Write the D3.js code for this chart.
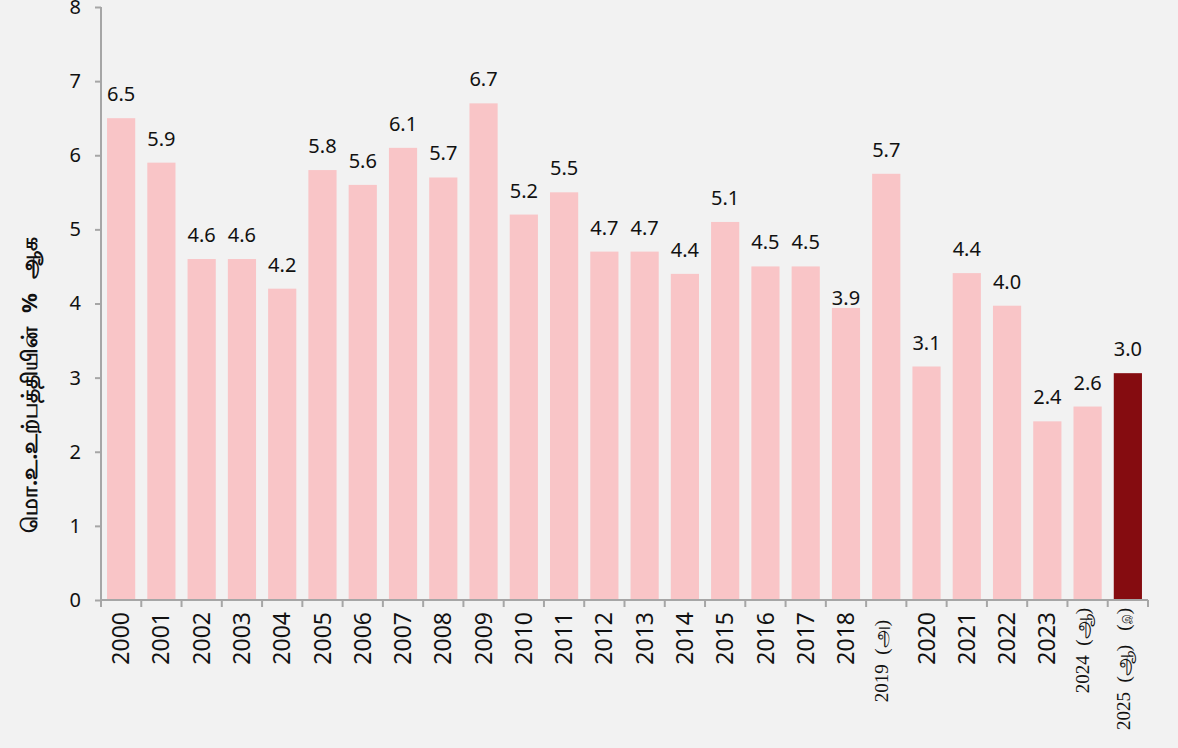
<!DOCTYPE html>
<html>
<head>
<meta charset="utf-8">
<script src="https://cdn.jsdelivr.net/npm/d3@7"></script>
<style>
  body { margin: 0; background: #f2f2f2; }
  svg { display: block; }
</style>
</head>
<body>
<svg id="chart" width="1178" height="748"></svg>
<script>
var categories = ['2000','2001','2002','2003','2004','2005','2006','2007','2008','2009',
  '2010','2011','2012','2013','2014','2015','2016','2017','2018','2019',
  '2020','2021','2022','2023','2024','2025'];
var categoryNotes = ['','','','','','','','','','',
  '','','','','','','','','','அ',
  '','','','','ஆ','ஆ|இ'];
var values = [6.5, 5.9, 4.6, 4.6, 4.2, 5.8, 5.6, 6.1, 5.7, 6.7,
  5.2, 5.5, 4.7, 4.7, 4.4, 5.1, 4.5, 4.5, 3.94, 5.75,
  3.15, 4.41, 3.97, 2.41, 2.61, 3.06];
var valueLabels = ['6.5','5.9','4.6','4.6','4.2','5.8','5.6','6.1','5.7','6.7',
  '5.2','5.5','4.7','4.7','4.4','5.1','4.5','4.5','3.9','5.7',
  '3.1','4.4','4.0','2.4','2.6','3.0'];
var yTicks = [0, 1, 2, 3, 4, 5, 6, 7, 8];
var yTitle = 'மொ.உ.உற்பத்தியின் % ஆக';

var margin = {top: 7, left: 101, right: 30, bottom: 148};
var width = 1178 - margin.left - margin.right;
var height = 748 - margin.top - margin.bottom;

var svg = d3.select('#chart');
var g = svg.append('g').attr('transform', 'translate(' + margin.left + ',' + margin.top + ')');

var x = d3.scaleBand().domain(categories).range([0, width]).paddingInner(0.3).paddingOuter(0.15);
var y = d3.scaleLinear().domain([0, 8]).range([height, 0]);

// bars
g.selectAll('rect.bar')
  .data(values)
  .enter().append('rect')
  .attr('class', 'bar')
  .attr('x', function(d, i) { return x(categories[i]); })
  .attr('width', x.bandwidth())
  .attr('y', function(d) { return y(d); })
  .attr('height', function(d) { return height - y(d); })
  .style('fill', function(d, i) { return i == values.length - 1 ? '#850c10' : '#f9c5c7'; });

// value labels
g.selectAll('text.val')
  .data(values)
  .enter().append('text')
  .attr('class', 'val')
  .attr('x', function(d, i) { return x(categories[i]) + x.bandwidth() / 2; })
  .attr('y', function(d, i) { return y(d) - (i == 18 ? 3 : 17); })
  .attr('text-anchor', 'middle')
  .style('font-family', 'Noto Sans, sans-serif')
  .style('font-size', '20px')
  .style('fill', '#111')
  .text(function(d, i) { return valueLabels[i]; });

// y axis
var yAxis = g.append('g')
  .call(d3.axisLeft(y).tickValues(yTicks).tickSize(6).tickPadding(14).tickFormat(d3.format('d')));
yAxis.select('.domain').attr('stroke', '#a6a6a6').attr('stroke-width', 2).attr('d', 'M0,0V' + height);
yAxis.selectAll('.tick line').attr('stroke', '#a6a6a6').attr('stroke-width', 2);
yAxis.selectAll('.tick text')
  .style('font-family', 'Noto Sans, sans-serif')
  .style('font-size', '20px')
  .style('fill', '#111');

// x axis line + boundary ticks
var step = x.step();
var bounds = categories.map(function(c) { return x(c) - x.paddingInner() * step / 2; });
bounds.push(width);
var xAxis = g.append('g').attr('transform', 'translate(0,' + height + ')');
xAxis.append('line')
  .attr('x1', 0).attr('x2', width)
  .attr('stroke', '#a6a6a6').attr('stroke-width', 2);
xAxis.selectAll('line.tk')
  .data(bounds)
  .enter().append('line')
  .attr('class', 'tk')
  .attr('x1', function(d) { return d; }).attr('x2', function(d) { return d; })
  .attr('y1', 0).attr('y2', 7)
  .attr('stroke', '#a6a6a6').attr('stroke-width', 2);

// category labels, rotated
xAxis.selectAll('text.cat')
  .data(categories)
  .enter().append('text')
  .attr('class', 'cat')
  .attr('transform', function(d, i) {
    var note = categoryNotes[i];
    var cx = x(d) + x.bandwidth() / 2;
    var off = note == '' ? 12 : (note == 'அ' ? 20 : 8);
    var shift = note == '' ? 0 : -5;
    return 'translate(' + (cx + shift) + ',' + off + ') rotate(-90)';
  })
  .attr('dy', '0.35em')
  .attr('text-anchor', 'end')
  .style('white-space', 'pre')
  .style('font-family', function(d, i) { return categoryNotes[i] ? 'Liberation Serif, serif' : 'Noto Sans, sans-serif'; })
  .style('font-size', function(d, i) { return categoryNotes[i] ? '19px' : '23px'; })
  .style('fill', '#111')
  .each(function(d, i) {
    var t = d3.select(this);
    var note = categoryNotes[i];
    if (!note) { t.text(d); return; }
    var parts = note.split('|');
    t.append('tspan').text(d + '  (');
    t.append('tspan').style('font-size', '20px').text(parts[0]);
    t.append('tspan').text(')');
    if (parts[1]) {
      t.append('tspan').text('   (');
      t.append('tspan').style('font-size', '10px').text(parts[1]);
      t.append('tspan').text(')');
    }
  });

// y title
svg.append('text')
  .attr('transform', 'translate(37,533) rotate(-90)')
  .attr('text-anchor', 'start')
  .style('font-family', 'Noto Sans, sans-serif')
  .style('font-weight', 'bold')
  .style('font-size', '22px')
  .style('word-spacing', '8px')
  .style('fill', '#111')
  .text(yTitle);
</script>
</body>
</html>
